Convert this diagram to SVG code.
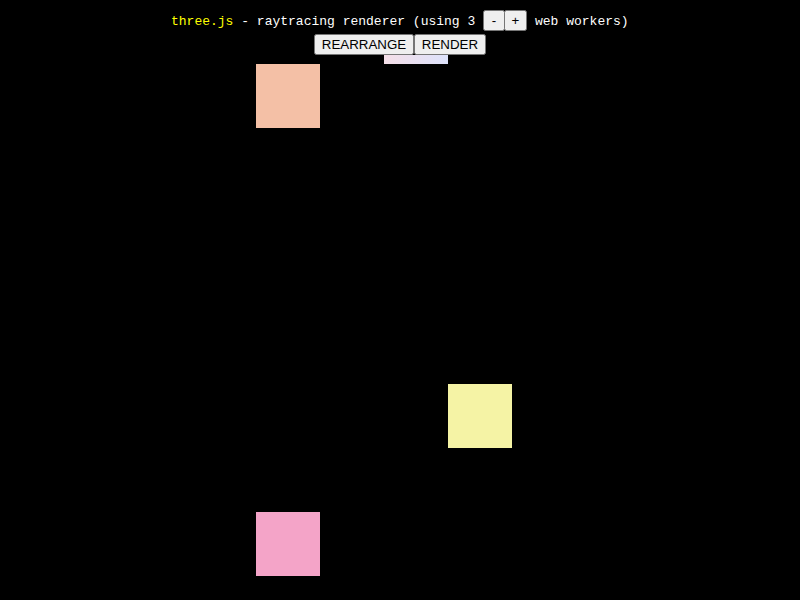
<svg xmlns="http://www.w3.org/2000/svg" width="800" height="600" viewBox="0 0 800 600">
<defs>
<style>
.info{font-family:"Liberation Mono",monospace;font-size:13px;fill:#ffffff}
.btn{fill:#efefef;stroke:#767676;stroke-width:1}
.btxt{font-family:"Liberation Sans",Arial,sans-serif;font-size:13.33px;fill:#000000;text-anchor:middle}
</style>
<linearGradient id="g1" x1="0" y1="0" x2="1" y2="0">
<stop offset="0" stop-color="#f5dfe8"/>
<stop offset="1" stop-color="#dde2fb"/>
</linearGradient>
</defs>
<rect width="800" height="600" fill="#000000"/>
<g id="tiles">
<rect id="tile-top" x="384" y="55" width="64" height="9" fill="url(#g1)"/>
<rect id="tile-peach" x="256" y="64" width="64" height="64" fill="#f4c0a6"/>
<rect id="tile-yellow" x="448" y="384" width="64" height="64" fill="#f5f3a5"/>
<rect id="tile-pink" x="256" y="512" width="64" height="64" fill="#f4a4c8"/>
</g>
<g id="info">
<text class="info" x="171" y="25" xml:space="preserve"><tspan fill="#ffff00">three.js</tspan> - raytracing renderer (using 3</text>
<text class="info" x="535" y="25">web workers)</text>
</g>
<g id="btn-minus">
<rect class="btn" x="483.5" y="10.5" width="21" height="20" rx="2"/>
<text class="btxt" x="494" y="25">-</text>
</g>
<g id="btn-plus">
<rect class="btn" x="504.5" y="10.5" width="22" height="20" rx="2"/>
<text class="btxt" x="515.5" y="25">+</text>
</g>
<g id="btn-rearrange">
<rect class="btn" x="314.5" y="34.5" width="99" height="20" rx="2"/>
<text class="btxt" x="364" y="49">REARRANGE</text>
</g>
<g id="btn-render">
<rect class="btn" x="414.5" y="34.5" width="71" height="20" rx="2"/>
<text class="btxt" x="450" y="49">RENDER</text>
</g>
<g id="connectors"/>
</svg>
